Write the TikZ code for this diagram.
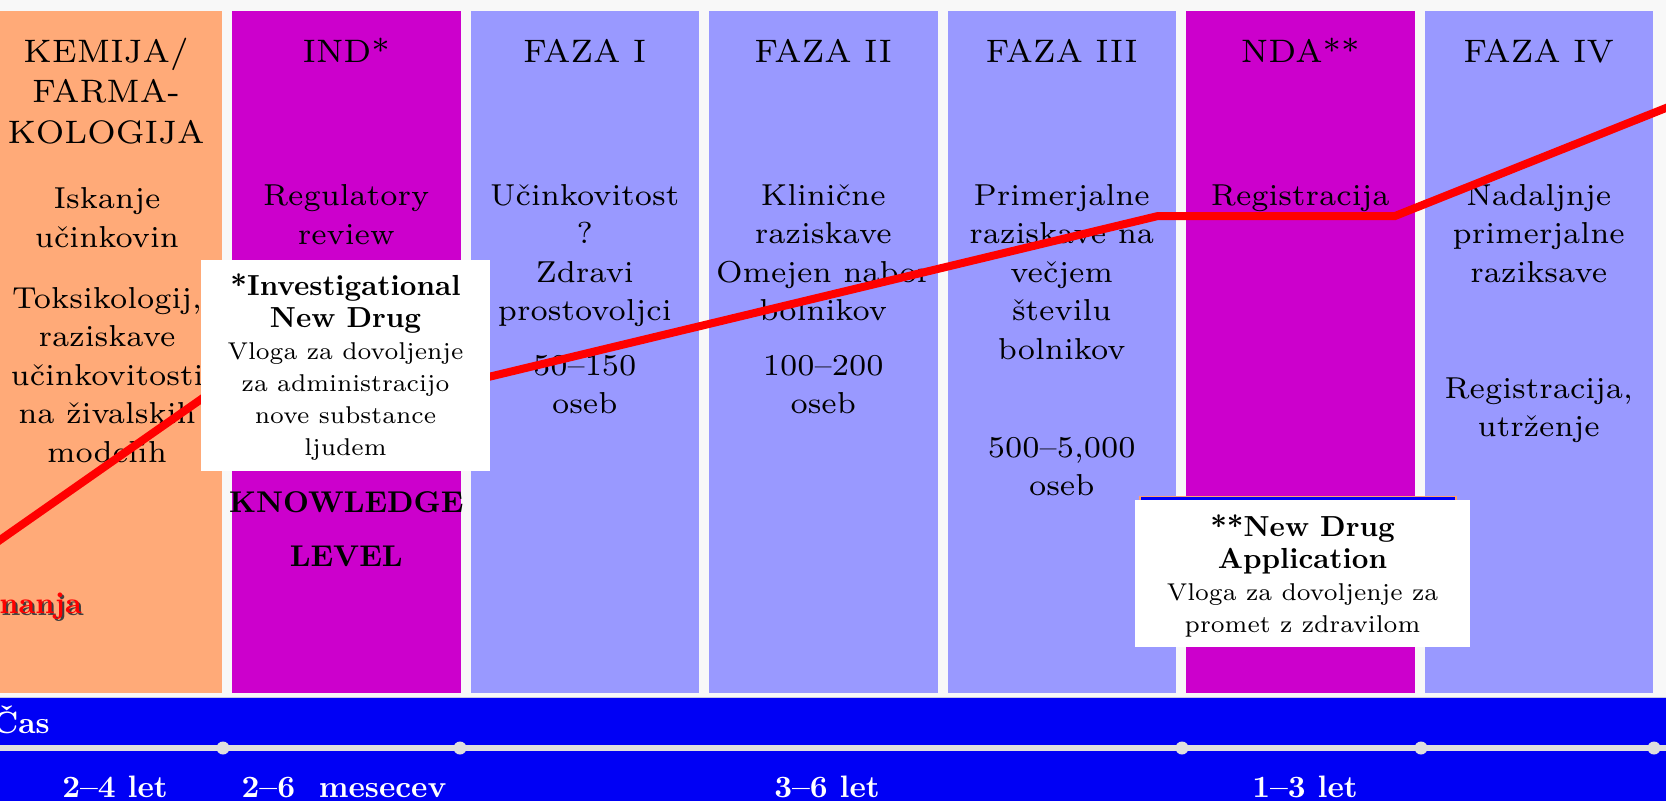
\documentclass[tikz,border=0pt]{standalone}
\usepackage{fontspec}
\setmainfont{lmroman7-regular.otf}[BoldFont=lmroman10-bold.otf]
\definecolor{bg}{RGB}{248,248,248}
\definecolor{orangecol}{RGB}{255,170,120}
\definecolor{magcol}{RGB}{204,0,204}
\definecolor{lavcol}{RGB}{153,153,255}
\definecolor{bandblue}{RGB}{0,0,245}
\definecolor{tickgray}{RGB}{222,222,222}
\definecolor{edgegray}{RGB}{200,200,225}
\definecolor{peekorange}{RGB}{255,160,110}
\newcommand{\nb}[1]{{\fontsize{29}{32}\selectfont\bfseries #1}}
\begin{document}
\begin{tikzpicture}[x=1pt,y=-1pt,
  colbox/.style={fill=#1},
  ttl/.style={font=\fontsize{32.5}{40.5}\selectfont, anchor=base, inner sep=0pt, align=center},
  bdy/.style={font=\fontsize{30.3}{38.5}\selectfont, anchor=base, inner sep=0pt, align=center},
  kl/.style={font=\fontsize{30}{54}\selectfont\bfseries, anchor=base, inner sep=0pt, align=center},
  nt/.style={font=\fontsize{24.3}{32}\selectfont, anchor=base, inner sep=0pt, align=center},
  tl/.style={font=\fontsize{31}{36}\selectfont\bfseries, text=white, anchor=base, inner sep=0pt},
  redline/.style={draw=red, line width=8pt},
  notebox/.style={fill=white},
  tickdot/.style={fill=tickgray}
]
% note: anchor=base of a multi-line node is the baseline of its last line
\useasboundingbox (0,0) rectangle (1666,801);
\clip (0,0) rectangle (1666,801);
\fill[bg] (0,0) rectangle (1666,801);
% columns
\fill[colbox=orangecol] (-6.5,11) rectangle (222,693);
\fill[colbox=magcol]    (232,11) rectangle (460.5,693);
\fill[colbox=lavcol]    (470.5,11) rectangle (699,693);
\fill[colbox=lavcol]    (709,11) rectangle (937.5,693);
\fill[colbox=lavcol]    (947.5,11) rectangle (1176,693);
\fill[colbox=magcol]    (1186,11) rectangle (1414.5,693);
\fill[colbox=lavcol]    (1424.5,11) rectangle (1653,693);
% titles
\node[ttl] (t1) at (106,143) {KEMIJA/\\FARMA-\\KOLOGIJA};
\node[ttl] (t2) at (346.25,62) {IND*};
\node[ttl] (t3) at (584.75,62) {FAZA I};
\node[ttl] (t4) at (823.25,62) {FAZA II};
\node[ttl] (t5) at (1061.75,62) {FAZA III};
\node[ttl] (t6) at (1300.25,62) {NDA**};
\node[ttl] (t7) at (1538.75,62) {FAZA IV};
% body texts
\node[bdy] (b1a) at (107,247) {Iskanje\\učinkovin};
\node[bdy] (b1b) at (107,462) {Toksikologij,\\raziskave\\učinkovitosti\\na živalskih\\modelih};
\node[bdy] (b2) at (346.25,244) {Regulatory\\review};
\node[kl] (b2k) at (346.25,566) {KNOWLEDGE\\LEVEL};
\node[bdy] (b3a) at (584.75,320.5) {Učinkovitost\\?\\Zdravi\\prostovoljci};
\node[bdy] (b3b) at (584.75,413.5) {50–150\\oseb};
\node[bdy] (b4a) at (823.25,320.5) {Klinične\\raziskave\\Omejen nabor\\bolnikov};
\node[bdy] (b4b) at (823.25,413.5) {100–200\\oseb};
\node[bdy] (b5a) at (1061.75,359) {Primerjalne\\raziskave na\\večjem\\številu\\bolnikov};
\node[bdy] (b5b) at (1061.75,495.5) {500–5,000\\oseb};
\node[bdy] (b6) at (1300.25,205) {Registracija};
\node[bdy] (b7a) at (1538.75,282) {Nadaljnje\\primerjalne\\raziksave};
\node[bdy] (b7b) at (1538.75,436.5) {Registracija,\\utrženje};
% knowledge label (cut at left edge)
\node[font=\fontsize{30}{36}\selectfont\bfseries, text=black!75, anchor=base east, inner sep=0pt] (znsh) at (84,615) {znanja};
\node[font=\fontsize{30}{36}\selectfont\bfseries, text=red, anchor=base east, inner sep=0pt] (zn) at (82,613) {znanja};
% red knowledge line
\draw[redline] (-20,554) -- (300,330) -- (480,379) -- (1158,216) -- (1395,216) -- (1686,100);
% IND note
\fill[notebox] (201,260) rectangle (490,471);
\node[nt] (indnote) at (345.5,455) {\nb{*Investigational}\\\nb{New Drug}\\Vloga za dovoljenje\\za administracijo\\nove substance\\ljudem};
% NDA note
\draw[fill=bandblue, draw=peekorange, line width=1.5pt] (1140,496.5) rectangle (1456,560);
\fill[notebox] (1135,500) rectangle (1470,647);
\node[nt] (ndanote) at (1302.5,632) {\nb{**New Drug}\\\nb{Application}\\Vloga za dovoljenje za\\promet z zdravilom};
% time band
\fill[bandblue] (0,698) rectangle (1666,801);
\draw[edgegray, line width=1.5pt] (0,697.5) -- (1666,697.5);
\coordinate (tl0) at (-10,748);
\coordinate (tl6) at (1676,748);
\draw[tickgray, line width=6pt] (tl0) -- (tl6);
\fill[tickdot] (223,748) circle[radius=6.5pt];
\fill[tickdot] (460,748) circle[radius=6.5pt];
\fill[tickdot] (1182,748) circle[radius=6.5pt];
\fill[tickdot] (1421,748) circle[radius=6.5pt];
\fill[tickdot] (1654,748) circle[radius=6.5pt];
\node[tl, anchor=base east] (cas) at (50,733) {Čas};
\node[tl] (d1) at (115,797) {2–4 let};
\node[tl] (d2) at (344,797) {2–6\ \ mesecev};
\node[tl] (d3) at (827,797) {3–6 let};
\node[tl] (d4) at (1305,797) {1–3 let};
\end{tikzpicture}
\end{document}
